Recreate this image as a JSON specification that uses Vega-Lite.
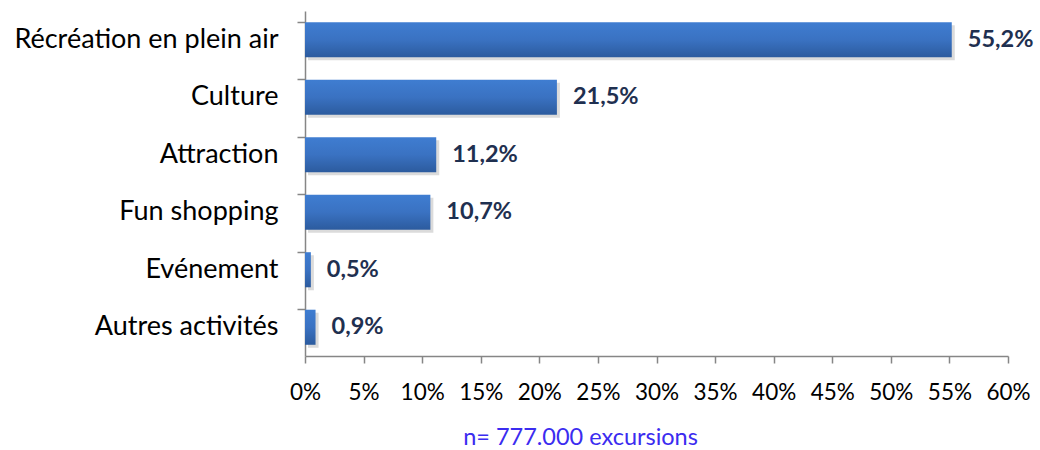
{
  "$schema": "https://vega.github.io/schema/vega-lite/v6.json",
  "width": 703,
  "height": 345,
  "autosize": {"type": "none"},
  "padding": {"left": 305, "top": 11, "right": 32, "bottom": 94},
  "background": "white",
  "config": {
    "view": {"stroke": null},
    "font": "Lato",
    "locale": {"number": {"decimal": ",", "thousands": ".", "grouping": [3], "currency": ["", "€"]}}
  },
  "data": {
    "values": [
      {"activite": "Récréation en plein air", "part": 0.552},
      {"activite": "Culture", "part": 0.215},
      {"activite": "Attraction", "part": 0.112},
      {"activite": "Fun shopping", "part": 0.107},
      {"activite": "Evénement", "part": 0.005},
      {"activite": "Autres activités", "part": 0.009}
    ]
  },
  "encoding": {
    "y": {
      "field": "activite", "type": "nominal", "sort": null,
      "scale": {"paddingInner": 0.39, "paddingOuter": 0.195},
      "axis": {
        "title": null, "bandPosition": 0, "tickSize": 8, "tickColor": "#868686", "tickWidth": 1.5,
        "domainColor": "#868686", "domainWidth": 1.5, "labelPadding": 19, "labelLimit": 400,
        "labelFontSize": 27, "labelColor": "#000000", "labelFont": "Lato"
      }
    },
    "x": {
      "field": "part", "type": "quantitative",
      "scale": {"domain": [0, 0.6], "nice": false},
      "axis": {
        "format": ".0%", "values": [0,0.05,0.1,0.15,0.2,0.25,0.3,0.35,0.4,0.45,0.5,0.55,0.6],
        "labelOverlap": false, "labelFlush": false,
        "grid": false, "tickSize": 7, "tickColor": "#868686", "tickWidth": 1.5,
        "domainColor": "#868686", "domainWidth": 1.5, "labelPadding": 18,
        "labelFontSize": 22.5, "labelColor": "#000000", "labelFont": "Lato",
        "title": "n= 777.000 excursions", "titleColor": "#3b2cf0", "titleFontSize": 23.5,
        "titleFontWeight": "normal", "titleFont": "Lato", "titleX": 275, "titleAlign": "center",
        "titlePadding": 22
      }
    }
  },
  "layer": [
    {
      "mark": {"type": "bar", "color": "#bdbdbd", "opacity": 0.55, "xOffset": 3, "yOffset": 3, "cornerRadius": 0}
    },
    {
      "mark": {
        "type": "bar",
        "color": {
          "x1": 0, "y1": 0, "x2": 0, "y2": 1, "gradient": "linear",
          "stops": [
            {"offset": 0, "color": "#3f7dd1"},
            {"offset": 0.5, "color": "#3a72c2"},
            {"offset": 1, "color": "#2c5b9e"}
          ]
        }
      }
    },
    {
      "mark": {"type": "text", "align": "left", "dx": 16, "fontWeight": "bold", "fontSize": 23.5, "color": "#1f3050", "font": "Lato"},
      "encoding": {"text": {"field": "part", "type": "quantitative", "format": ".1%"}}
    }
  ]
}
